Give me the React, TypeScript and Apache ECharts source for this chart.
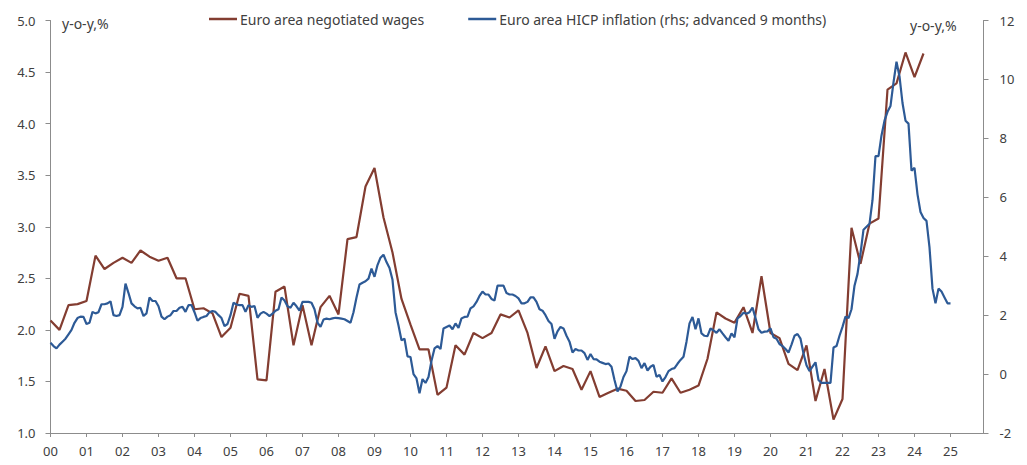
import React, { useEffect, useRef } from "react";
import * as echarts from "echarts";

// Euro area negotiated wages, y-o-y %, quarterly, first point plotted at 2000.0
const wagesStartYear = 2000;
const negotiatedWages = [
  2.09, 2.0, 2.24, 2.25, 2.28, 2.72, 2.59, 2.65, 2.7, 2.65, 2.77, 2.71, 2.67, 2.7, 2.5, 2.5,
  2.2, 2.21, 2.16, 1.93, 2.02, 2.35, 2.33, 1.52, 1.51, 2.37, 2.42, 1.85, 2.24, 1.85, 2.22, 2.33,
  2.15, 2.88, 2.9, 3.39, 3.57, 3.09, 2.75, 2.3, 2.05, 1.81, 1.81, 1.37, 1.44, 1.85, 1.76, 1.97,
  1.92, 1.97, 2.15, 2.12, 2.19, 1.97, 1.63, 1.84, 1.6, 1.65, 1.62, 1.42, 1.6, 1.35, 1.39, 1.43,
  1.41, 1.31, 1.32, 1.4, 1.39, 1.53, 1.39, 1.42, 1.46, 1.72, 2.17, 2.11, 2.07, 2.22, 1.97, 2.52,
  1.97, 1.92, 1.67, 1.61, 1.85, 1.31, 1.62, 1.13, 1.33, 2.99, 2.64, 3.03, 3.08, 4.33, 4.39, 4.69,
  4.45, 4.68,
];

// Euro area HICP inflation, y-o-y %, monthly from Apr 1999, advanced 9 months (first point plotted at Jan 2000)
const hicpStartYear = 2000;
const hicpInflation = [
  // 1999 Apr-Dec
  1.06, 0.95, 0.87, 1.0, 1.1, 1.2, 1.35, 1.5, 1.74,
  // 2000
  1.9, 1.95, 1.94, 1.7, 1.74, 2.11, 2.06, 2.1, 2.37, 2.37, 2.4, 2.47,
  // 2001
  2.0, 1.97, 2.0, 2.28, 3.07, 2.75, 2.4, 2.3, 2.23, 2.25, 1.97, 2.06,
  // 2002
  2.6, 2.48, 2.48, 2.3, 1.95, 1.86, 1.95, 2.0, 2.14, 2.14, 2.25, 2.28,
  // 2003
  2.11, 2.34, 2.34, 2.1, 1.81, 1.9, 1.94, 1.97, 2.1, 2.14, 2.11, 2.0,
  // 2004
  1.9, 1.63, 1.7, 2.0, 2.42, 2.36, 2.34, 2.34, 2.11, 2.34, 2.28, 2.31,
  // 2005
  1.91, 2.05, 2.11, 2.05, 1.97, 2.05, 2.15, 2.2, 2.6, 2.5, 2.3, 2.25,
  // 2006
  2.42, 2.3, 2.15, 2.45, 2.45, 2.45, 2.42, 2.2, 1.75, 1.6, 1.85, 1.88,
  // 2007
  1.86, 1.89, 1.91, 1.9, 1.88, 1.86, 1.8, 1.74, 2.1, 2.6, 3.04, 3.1,
  // 2008
  3.15, 3.24, 3.58, 3.3, 3.7, 3.95, 4.05, 3.8, 3.6, 3.2, 2.1, 1.65,
  // 2009
  1.15, 1.2, 0.6, 0.58, 0.0, -0.15, -0.65, -0.17, -0.3, -0.1, 0.45, 0.87,
  // 2010
  0.95, 0.85, 1.55, 1.6, 1.65, 1.52, 1.72, 1.57, 1.89, 1.94, 1.95, 2.23,
  // 2011
  2.3, 2.45, 2.65, 2.8, 2.7, 2.7, 2.55, 2.5, 3.0, 3.0, 3.0, 2.75,
  // 2012
  2.7, 2.7, 2.65, 2.57, 2.4, 2.4, 2.45, 2.6, 2.6, 2.45, 2.2, 2.15,
  // 2013
  2.0, 1.8, 1.7, 1.2, 1.45, 1.6, 1.55, 1.3, 1.1, 0.73, 0.85, 0.8,
  // 2014
  0.8, 0.71, 0.48, 0.68, 0.51, 0.5, 0.42, 0.38, 0.34, 0.36, 0.25, -0.2,
  // 2015
  -0.59, -0.42, -0.1, 0.1, 0.59, 0.51, 0.54, 0.45, 0.2, 0.37, 0.12, 0.25,
  // 2016
  0.31, -0.09, -0.03, -0.25, -0.1, 0.1, 0.17, 0.2, 0.35, 0.48, 0.59, 1.1,
  // 2017
  1.72, 1.94, 1.52, 1.89, 1.38, 1.3, 1.29, 1.55, 1.48, 1.4, 1.52, 1.38,
  // 2018
  1.25, 1.13, 1.38, 1.25, 1.89, 1.97, 2.08, 2.05, 2.1, 2.26, 1.9, 1.52,
  // 2019
  1.4, 1.44, 1.45, 1.55, 1.25, 1.2, 1.02, 0.95, 0.85, 0.73, 1.0, 1.3,
  // 2020
  1.36, 1.2, 0.7, 0.3, 0.1, 0.25, 0.4, -0.2, -0.3, -0.3, -0.3, -0.3,
  // 2021
  0.9, 0.95, 1.3, 1.6, 1.95, 1.9, 2.2, 3.0, 3.4, 4.1, 4.9, 5.0,
  // 2022
  5.1, 5.9, 7.4, 7.4, 8.1, 8.6, 8.9, 9.1, 9.9, 10.6, 10.1, 9.2,
  // 2023
  8.6, 8.5, 6.9, 7.0, 6.1, 5.5, 5.3, 5.2, 4.3, 2.9, 2.4, 2.9,
  // 2024 Jan-Apr
  2.8, 2.6, 2.4, 2.4,
];

const seriesNames = [
  "Euro area negotiated wages",
  "Euro area HICP inflation (rhs; advanced 9 months)",
];
const axisUnit = "y-o-y,%";
const xMin = 2000;
const xMax = 2025 + 11 / 12;
const leftMin = 1, leftMax = 5, leftStep = 0.5;
const rightMin = -2, rightMax = 12, rightStep = 2;

const BROWN = "#833d31";
const BLUE = "#2d5a96";
const TEXT = "#404040";
const AXIS = "#8c8c8c";
const FONT = "'Noto Sans', sans-serif";

export default function App() {
  const ref = useRef<HTMLDivElement>(null);
  useEffect(() => {
    if (!ref.current) return;
    const chart = echarts.init(ref.current, null, { renderer: "svg" });
    const wagesData = negotiatedWages.map((v, i) => [wagesStartYear + i / 4, v]);
    const hicpData = hicpInflation.map((v, i) => [hicpStartYear + i / 12, v]);
    chart.setOption({
      animation: false,
      backgroundColor: "#ffffff",
      textStyle: { fontFamily: FONT },
      grid: { left: 50.5, right: 43.5, top: 20.5, bottom: 32, containLabel: false },
      legend: {
        left: 204,
        top: 7,
        itemWidth: 28,
        itemHeight: 2.5,
        itemGap: 44,
        icon: "rect",
        textStyle: { color: TEXT, fontSize: 14, fontFamily: FONT, padding: [0, 0, 0, -2] },
        data: seriesNames,
      },
      graphic: [
        {
          type: "text",
          left: 62,
          top: 16,
          style: { text: axisUnit, fill: TEXT, fontSize: 14, fontFamily: FONT },
        },
        {
          type: "text",
          left: 910,
          top: 18,
          style: { text: axisUnit, fill: TEXT, fontSize: 14, fontFamily: FONT },
        },
      ],
      xAxis: {
        type: "value",
        min: xMin,
        max: xMax,
        interval: 1,
        splitLine: { show: false },
        axisLine: { show: true, onZero: false, lineStyle: { color: AXIS, width: 1 } },
        axisTick: { show: true, inside: false, length: 4, lineStyle: { color: AXIS } },
        axisLabel: {
          color: TEXT,
          fontSize: 13,
          fontFamily: FONT,
          margin: 11,
          showMaxLabel: false,
          formatter: (v: number) =>
            Number.isInteger(v) && v <= 2025 ? String(v % 100).padStart(2, "0") : "",
        },
      },
      yAxis: [
        {
          type: "value",
          min: leftMin,
          max: leftMax,
          interval: leftStep,
          position: "left",
          splitLine: { show: false },
          axisLine: { show: true, onZero: false, lineStyle: { color: AXIS } },
          axisTick: { show: true, inside: false, length: 5, lineStyle: { color: AXIS } },
          axisLabel: {
            color: TEXT,
            fontSize: 13,
            fontFamily: FONT,
            margin: 15,
            formatter: (v: number) => v.toFixed(1),
          },
        },
        {
          type: "value",
          min: rightMin,
          max: rightMax,
          interval: rightStep,
          position: "right",
          splitLine: { show: false },
          axisLine: { show: true, onZero: false, lineStyle: { color: AXIS } },
          axisTick: { show: true, inside: false, length: 5, lineStyle: { color: AXIS } },
          axisLabel: { color: TEXT, fontSize: 13, fontFamily: FONT, margin: 16 },
        },
      ],
      series: [
        {
          name: seriesNames[0],
          type: "line",
          yAxisIndex: 0,
          data: wagesData,
          showSymbol: false,
          symbol: "none",
          lineStyle: { color: BROWN, width: 2.2 },
          itemStyle: { color: BROWN },
          z: 2,
        },
        {
          name: seriesNames[1],
          type: "line",
          yAxisIndex: 1,
          data: hicpData,
          showSymbol: false,
          symbol: "none",
          lineStyle: { color: BLUE, width: 2.2 },
          itemStyle: { color: BLUE },
          z: 3,
        },
      ],
    });
    return () => chart.dispose();
  }, []);
  return (
    <div
      ref={ref}
      style={{ position: "fixed", left: 0, top: 0, width: 1027, height: 465, background: "#fff" }}
    />
  );
}
